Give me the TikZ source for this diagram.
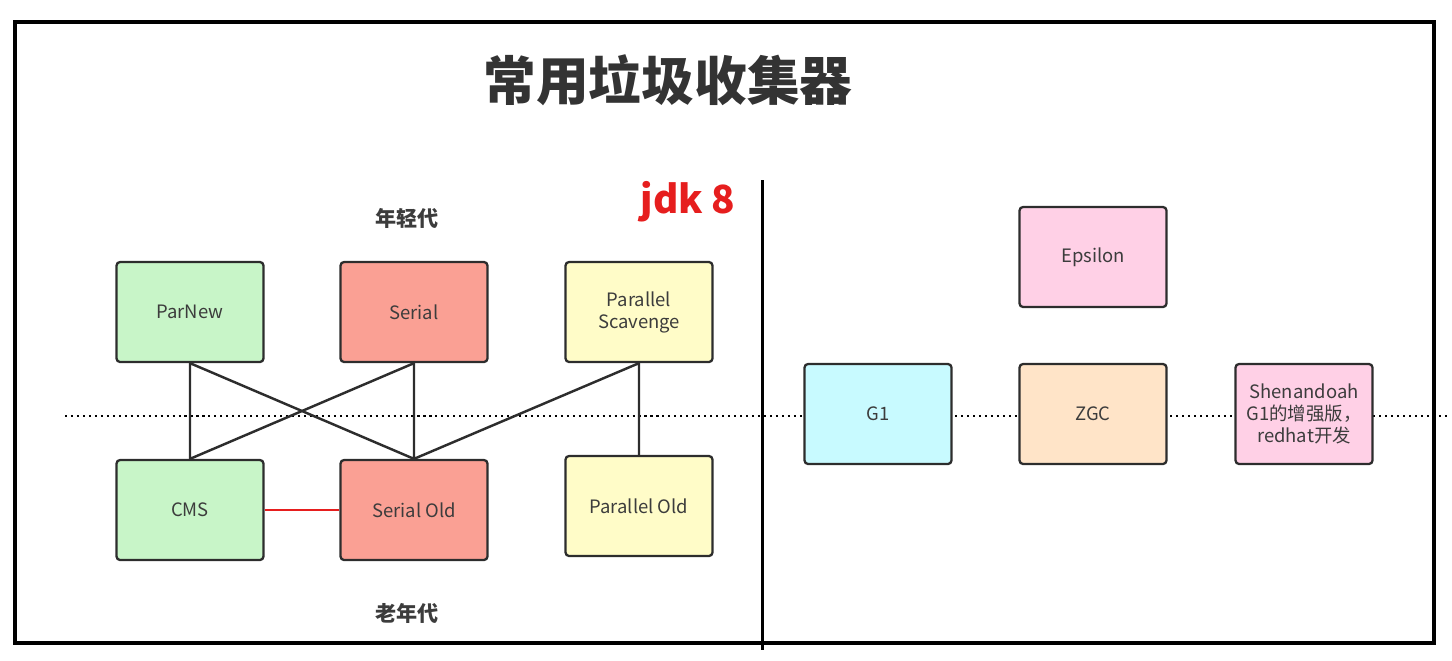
\documentclass[tikz,border=0pt]{standalone}
\usepackage{fontspec}
\setmainfont{Noto Sans CJK SC}
\usepackage{xcolor}
\usetikzlibrary{positioning}

\definecolor{boxline}{RGB}{45,45,45}
\definecolor{boxtext}{RGB}{60,60,60}
\definecolor{gcgreen}{RGB}{200,245,200}
\definecolor{gcred}{RGB}{250,160,148}
\definecolor{gcyellow}{RGB}{255,252,200}
\definecolor{gcpink}{RGB}{255,208,230}
\definecolor{gccyan}{RGB}{200,250,255}
\definecolor{gcpeach}{RGB}{255,228,200}
\definecolor{jdkred}{RGB}{230,30,30}

\tikzset{
  gcbox/.style={draw=boxline, line width=1.3pt, rounded corners=2pt,
    minimum width=2.94cm, minimum height=2cm, align=center,
    text=boxtext, font=\fontsize{10.5}{12.5}\selectfont, inner sep=1pt},
  link/.style={draw=boxline, line width=1.4pt},
  genlabel/.style={text=boxtext, font=\bfseries\fontsize{12}{14}\selectfont},
}

\begin{document}
\begin{tikzpicture}[x=0.02cm, y=-0.02cm]
                        \useasboundingbox (0,0) rectangle (1452,660);
                        % frame and divider
                        \draw[line width=2.3pt] (15,22) rectangle (1434,643);
                        \draw[line width=1.7pt] (762,180) -- (762,650);
                        \draw[line width=1.4pt, dash pattern=on 1.2pt off 2.2pt] (65,416) -- (1447,416);

                        \node[font=\bfseries\fontsize{30}{34}\selectfont, text=black!80] (title) at (668,80) {常用垃圾收集器};
                        \node[font=\bfseries\fontsize{22}{26}\selectfont, text=jdkred] (jdk) at (688,202) {jdk 8};
                        \node[genlabel] (young) at (407,218) {年轻代};
                        \node[genlabel] (old) at (407,613) {老年代};

                        \node[gcbox, fill=gcgreen] (parnew) at (190,312) {ParNew};
                        \node[gcbox, fill=gcred] (serial) at (414,312) {Serial};
                        \node[gcbox, fill=gcyellow] (pscav) at (639,312) {Parallel\\Scavenge};
                        \node[gcbox, fill=gcgreen] (cms) at (190,510) {CMS};
                        \node[gcbox, fill=gcred] (serialold) at (414,510) {Serial Old};
                        \node[gcbox, fill=gcyellow] (pold) at (639,506) {Parallel Old};

                        \node[gcbox, fill=gcpink] (epsilon) at (1093,257) {Epsilon};
                        \node[gcbox, fill=gccyan] (gone) at (878,414) {G1};
                        \node[gcbox, fill=gcpeach] (zgc) at (1093,414) {ZGC};
                        \node[gcbox, fill=gcpink, minimum width=2.74cm] (shen) at (1304,414) {Shenandoah\\G1的增强版，\\redhat开发};

                        \draw[link]
                        (parnew.south) -- (cms.north)
                        (parnew.south) -- (serialold.north)
                        (serial.south) -- (cms.north)
                        (serial.south) -- (serialold.north)
                        (pscav.south) -- (serialold.north)
                        (pscav.south) -- (pold.north);
                        \draw[line width=1.4pt, jdkred] (cms.east) -- (serialold.west);
                    \end{tikzpicture}
\end{document}
